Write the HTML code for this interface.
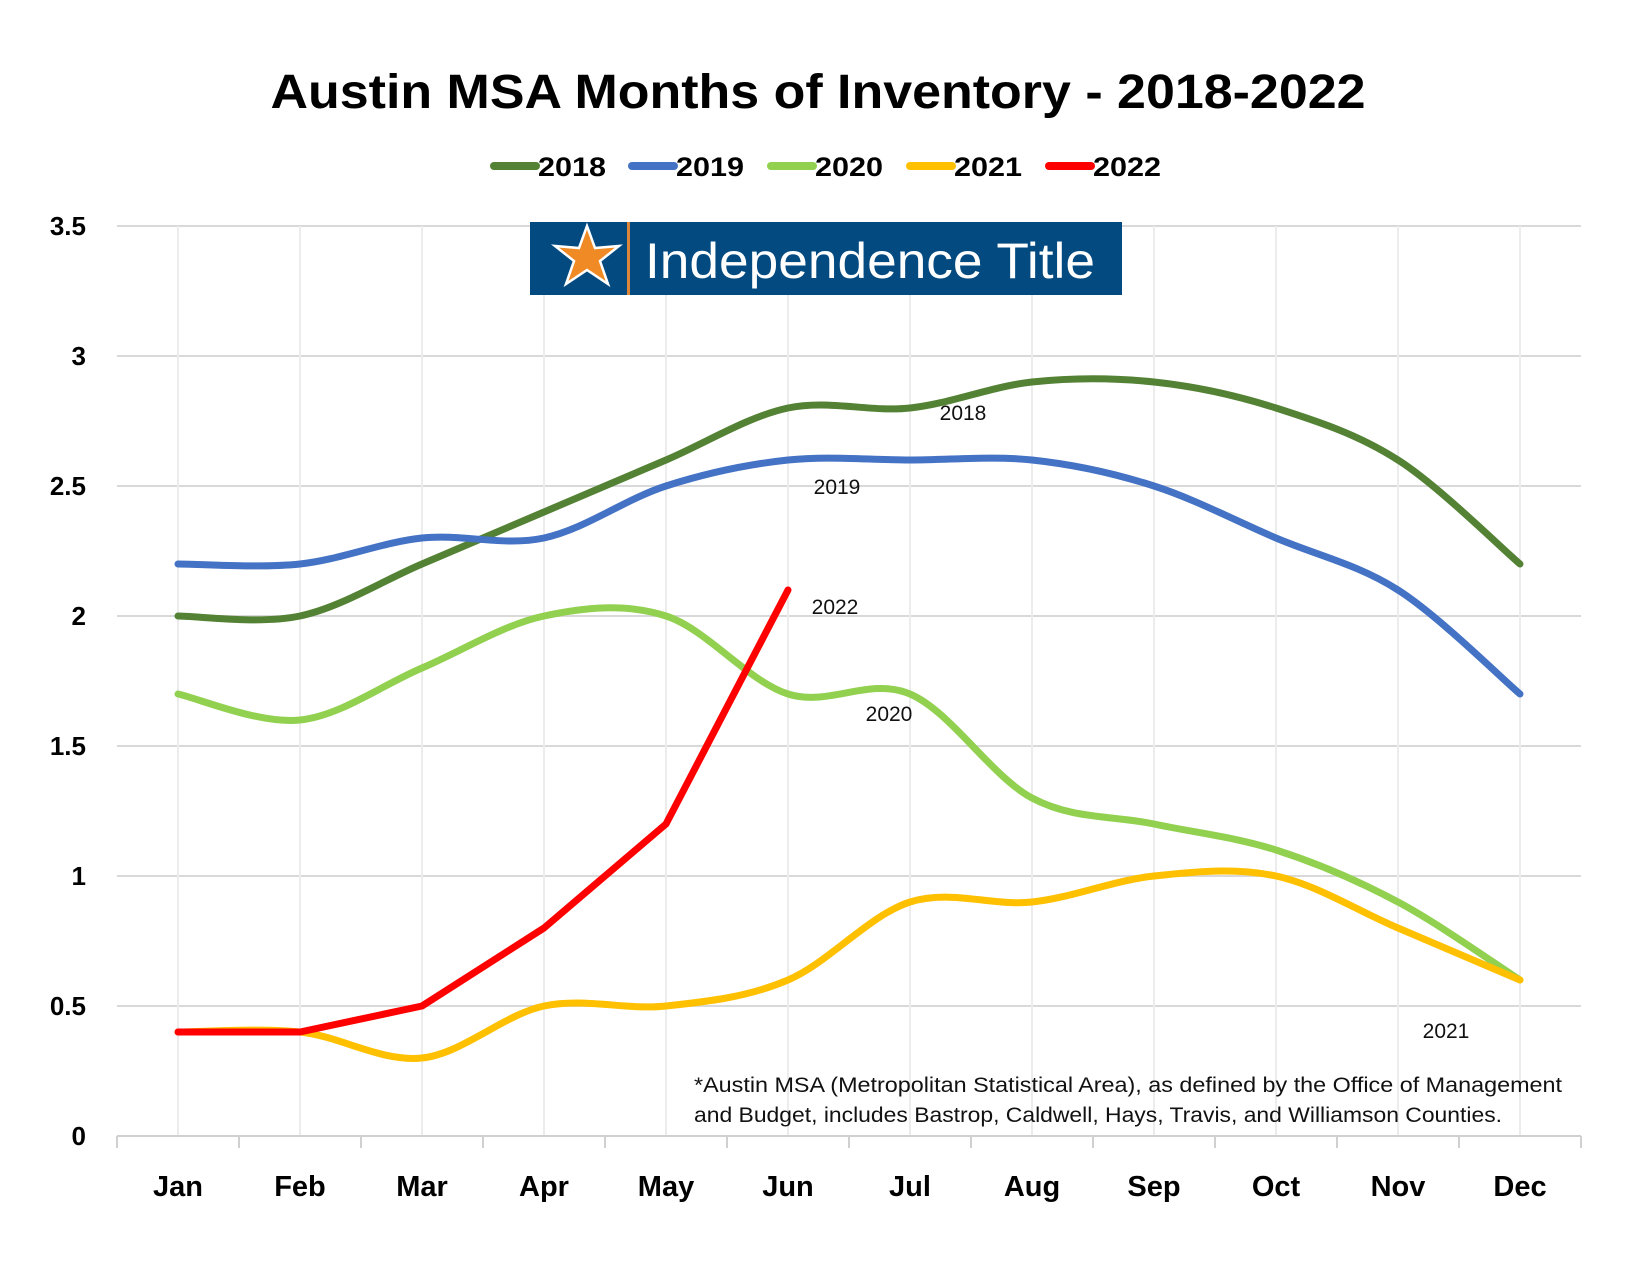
<!DOCTYPE html>
<html><head><meta charset="utf-8"><style>
html,body{margin:0;padding:0;background:#fff;}
svg{display:block;}
text{font-family:"Liberation Sans",sans-serif;}
</style></head><body>
<svg id="chart" width="1650" height="1275" viewBox="0 0 1650 1275">
<rect x="0" y="0" width="1650" height="1275" fill="#fff"/>
<text x="818" y="108" text-anchor="middle" font-size="48" font-weight="bold" textLength="1095" lengthAdjust="spacingAndGlyphs">Austin MSA Months of Inventory - 2018-2022</text>
<g id="legend"></g>
<g id="grid"></g>
<g id="yticks"></g>
<g id="xticks"></g>
<g>
<rect x="530" y="222" width="592" height="73" fill="#034a80"/>
<polygon points="587,226 595,248 619,246 600,261 608,284 587,270 566,284 574,261 555,246 579,248" fill="#f08a24" stroke="#fff" stroke-width="2.5"/>
<polygon points="587,226 587,257 619,246 587,257 608,284 587,257 566,284 587,257 555,246 587,257" fill="#1c3f66" opacity="0.6"/>
<rect x="627" y="222" width="3" height="73" fill="#d9853a"/>
<text x="645" y="278" font-size="50" fill="#fff" textLength="450" lengthAdjust="spacingAndGlyphs">Independence Title</text>
</g>
<g id="series"></g>
<g id="labels"></g>
<g>
<text x="694" y="1092" font-size="21" fill="#111" textLength="868" lengthAdjust="spacingAndGlyphs">*Austin MSA (Metropolitan Statistical Area), as defined by the Office of Management</text>
<text x="694" y="1122" font-size="21" fill="#111" textLength="808" lengthAdjust="spacingAndGlyphs">and Budget, includes Bastrop, Caldwell, Hays, Travis, and Williamson Counties.</text>
</g>
</svg>
<script>
const months = ["Jan","Feb","Mar","Apr","May","Jun","Jul","Aug","Sep","Oct","Nov","Dec"];
const yTicks = [0,0.5,1,1.5,2,2.5,3,3.5];
const yTickLabels = ["0","0.5","1","1.5","2","2.5","3","3.5"];
const seriesNames = ["2018","2019","2020","2021","2022"];
const v2018 = [2.0,2.0,2.2,2.4,2.6,2.8,2.8,2.9,2.9,2.8,2.6,2.2];
const v2019 = [2.2,2.2,2.3,2.3,2.5,2.6,2.6,2.6,2.5,2.3,2.1,1.7];
const v2020 = [1.7,1.6,1.8,2.0,2.0,1.7,1.7,1.3,1.2,1.1,0.9,0.6];
const v2021 = [0.4,0.4,0.3,0.5,0.5,0.6,0.9,0.9,1.0,1.0,0.8,0.6];
const v2022 = [0.4,0.4,0.5,0.8,1.2,2.1];
const colors = ["#548235","#4472c4","#92d050","#ffc000","#ff0000"];
const NS = "http://www.w3.org/2000/svg";
function mk(tag, attrs, parent){const e=document.createElementNS(NS,tag);for(const k in attrs)e.setAttribute(k,attrs[k]);parent.appendChild(e);return e;}
const xL=117, step=122, y0=1136, yPer=260;
function xs(i){return xL+step/2+i*step;}
function ys(v){return y0-v*yPer;}
const grid=document.getElementById('grid');
yTicks.forEach((t,i)=>{
  if(t>0){const l=mk('line',{x1:xL,x2:xL+12*step,y1:ys(t),y2:ys(t),stroke:'#d9d9d9','stroke-width':2},grid);
  
  }
  const tx=mk('text',{x:86,y:ys(t)+9,'text-anchor':'end','font-size':26,'font-weight':'bold'},document.getElementById('yticks'));
  tx.textContent=yTickLabels[i];
  
  
});
months.forEach((m,i)=>{
  const l=mk('line',{x1:xs(i),x2:xs(i),y1:ys(3.5),y2:y0,stroke:'#ececec','stroke-width':2},grid);
  
  
  const tx=mk('text',{x:xs(i),y:1196,'text-anchor':'middle','font-size':29,'font-weight':'bold'},document.getElementById('xticks'));
  tx.textContent=m;
  
  
});
const xt=document.getElementById('xticks');
const ax=mk('line',{x1:xL,x2:xL+12*step,y1:y0,y2:y0,stroke:'#d0d0d0','stroke-width':2},xt);


for(let i=0;i<=12;i++){const t=mk('line',{x1:xL+i*step,x2:xL+i*step,y1:y0,y2:y0+12,stroke:'#d0d0d0','stroke-width':2},xt);

}
function smooth(vals){
  const p=vals.map((v,i)=>[xs(i),ys(v)]);
  let d=`M${p[0][0]},${p[0][1]}`;
  for(let i=0;i<p.length-1;i++){
    const a=p[Math.max(i-1,0)],b=p[i],c=p[i+1],e=p[Math.min(i+2,p.length-1)];
    const c1=[b[0]+(c[0]-a[0])/6,b[1]+(c[1]-a[1])/6],c2=[c[0]-(e[0]-b[0])/6,c[1]-(e[1]-b[1])/6];
    d+=` C${c1[0]},${c1[1]} ${c2[0]},${c2[1]} ${c[0]},${c[1]}`;
  }
  return d;
}
function straight(vals){return vals.map((v,i)=>(i?'L':'M')+xs(i)+','+ys(v)).join(' ');}
const sg=document.getElementById('series');
const allVals=[v2018,v2019,v2020,v2021,v2022];
allVals.forEach((vals,k)=>{
  const p=mk('path',{d:k===4?straight(vals):smooth(vals),fill:'none',stroke:colors[k],'stroke-width':7,'stroke-linecap':'round','stroke-linejoin':'round'},sg);
  
  
});
const lab=[[963,420,"2018"],[837,494,"2019"],[889,721,"2020"],[1446,1038,"2021"],[835,614,"2022"]];
const lg=document.getElementById('labels');
lab.forEach(a=>{const t=mk('text',{x:a[0],y:a[1],'text-anchor':'middle','font-size':21,fill:'#111'},lg);t.textContent=a[2];

});
const leg=document.getElementById('legend');
const lx=[490,628,767,906,1045];
seriesNames.forEach((n,k)=>{
  const g=mk('g',{},leg);
  
  
  mk('line',{x1:lx[k]+4,x2:lx[k]+46,y1:166,y2:166,stroke:colors[k],'stroke-width':8,'stroke-linecap':'round'},g);
  const t=mk('text',{x:lx[k]+48,y:176,'font-size':27,'font-weight':'bold',textLength:68,lengthAdjust:'spacingAndGlyphs'},g);
  t.textContent=n;
});
</script>
</body></html>
